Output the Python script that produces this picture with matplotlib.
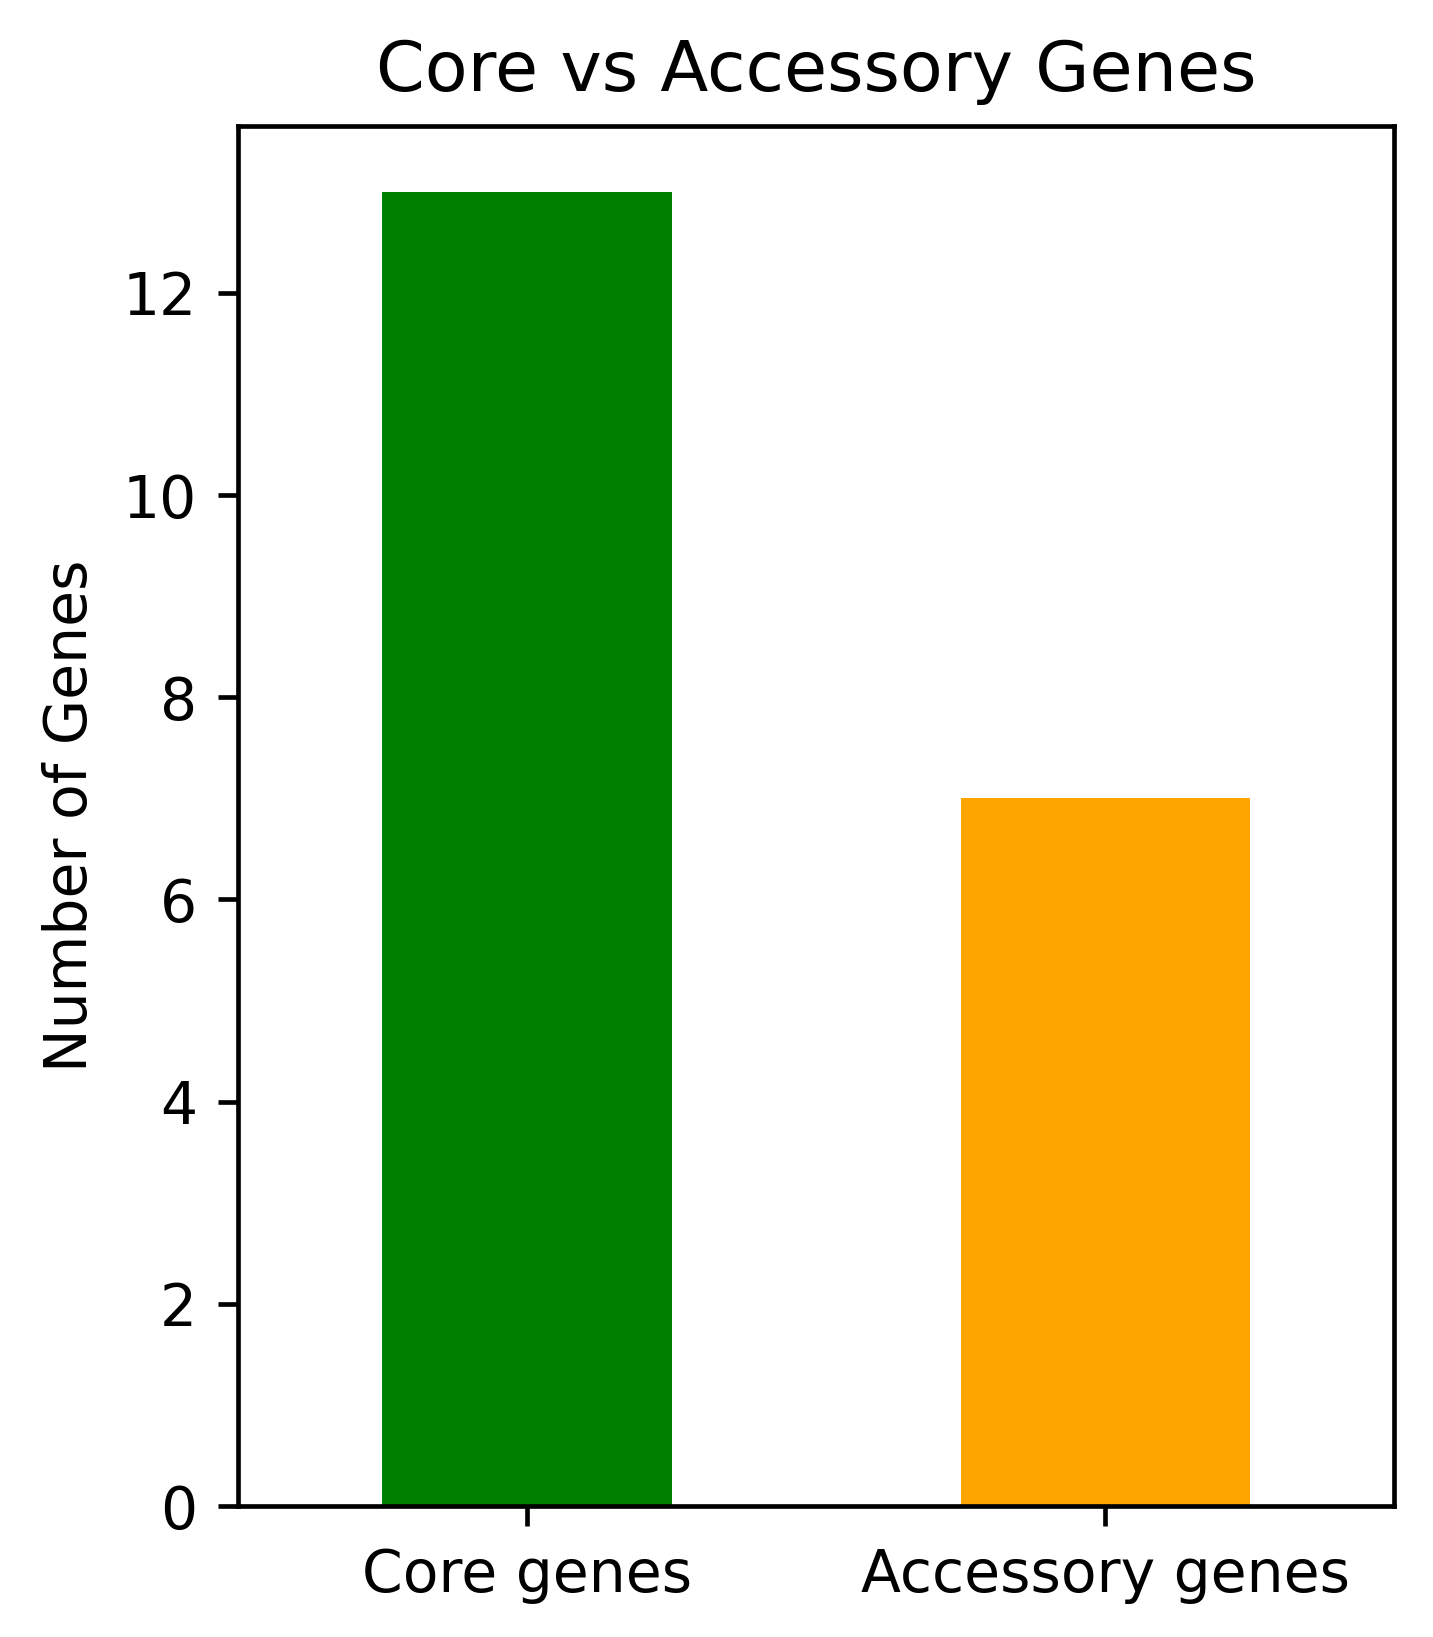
import matplotlib
matplotlib.use("Agg")
import matplotlib.pyplot as plt

categories = ["Core genes", "Accessory genes"]
values = [13, 7]
colors = ["green", "orange"]

DPI = 420
fig = plt.figure(figsize=(1433/DPI, 1637/DPI), dpi=DPI)
ax = fig.add_axes([0.166, 0.080, 0.807, 0.843])
ax.bar(categories, values, color=colors, width=0.5)
ax.set_xlim(-0.5, 1.5)
ax.set_title("Core vs Accessory Genes", fontsize=12)
ax.set_ylabel("Number of Genes", fontsize=10)
ax.tick_params(labelsize=10)
fig.savefig("out.png", dpi=DPI)
